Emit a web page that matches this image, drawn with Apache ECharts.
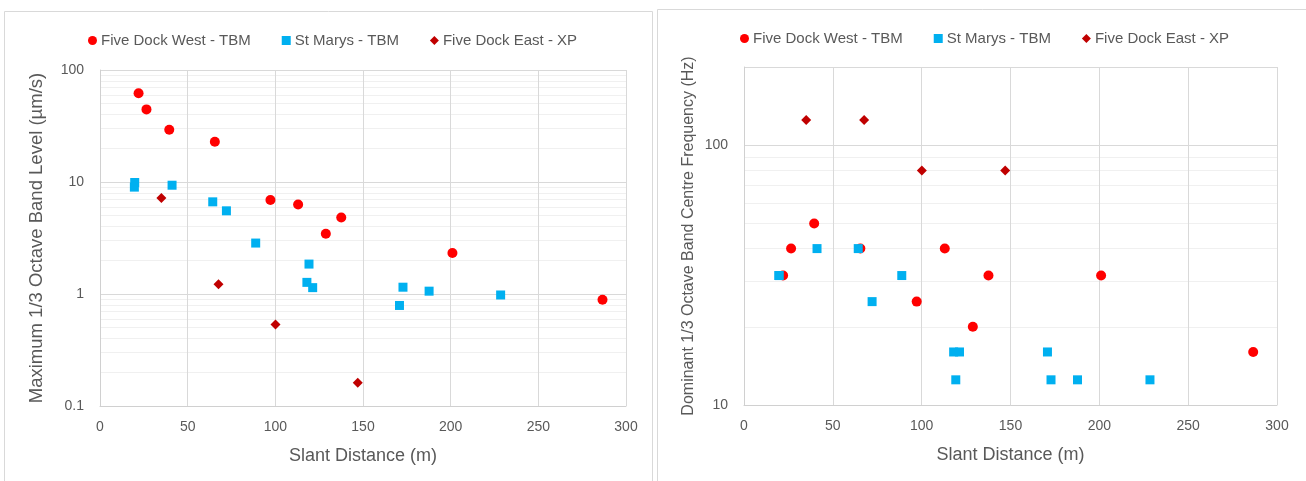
<!DOCTYPE html>
<html>
<head>
<meta charset="utf-8">
<script src="https://cdn.jsdelivr.net/npm/echarts@6/dist/echarts.min.js"></script>
<style>
  html, body { margin: 0; padding: 0; background: #fff; }
  #chart { width: 1306px; height: 481px; }
</style>
</head>
<body>
<div id="chart"></div>
<script>
// slant distance (m) per site
var westDist   = [22, 26.5, 39.5, 65.5, 97.2, 113, 128.8, 137.6, 201, 286.6];
var westLevel  = [62, 44.5, 29.3, 22.9, 6.9, 6.3, 3.45, 4.82, 2.32, 0.89];
var westFreq   = [31.5, 40, 50, 40, 25, 40, 20, 31.5, 31.5, 16];

var marysDist  = [19.8, 19.6, 41.1, 64.3, 72.1, 88.8, 119.2, 118, 121.3, 170.8, 172.8, 187.7, 228.5];
var marysLevel = [9.9, 9.0, 9.36, 6.65, 5.53, 2.85, 1.85, 1.27, 1.14, 0.79, 1.15, 1.06, 0.98];
var marysFreq  = [31.5, 31.5, 40, 40, 25, 31.5, 12.5, 16, 16, 16, 12.5, 12.5, 12.5];

var eastDist   = [35, 67.6, 100.1, 147];
var eastLevel  = [7.21, 1.22, 0.533, 0.161];
var eastFreq   = [125, 125, 80, 80];

var seriesNames = ['Five Dock West - TBM', 'St Marys - TBM', 'Five Dock East - XP'];
var xTicks = [0, 300, 50];           // min, max, interval
var levelRange = [0.1, 100];
var freqRange = [10, 200];

function pairs(xs, ys) {
  return xs.map(function (x, i) { return [x, ys[i]]; });
}

// minor log gridlines (2..9 of each decade) inside a range
function minorLines(lo, hi) {
  var out = [];
  for (var d = Math.floor(Math.log10(lo)); d <= Math.ceil(Math.log10(hi)); d++) {
    for (var m = 2; m <= 9; m++) {
      var v = m * Math.pow(10, d);
      if (v > lo * 1.0001 && v < hi * 0.9999) out.push({ yAxis: v });
    }
  }
  return out;
}

var FONT = "'Liberation Sans', Arial, sans-serif";
var GREY = '#595959';

function logLabel(v) {
  var l = Math.log10(v);
  if (Math.abs(l - Math.round(l)) > 1e-6) return '';
  return String(+Math.pow(10, Math.round(l)).toPrecision(6));
}

function xAxisOpt(gi) {
  return {
    type: 'value', gridIndex: gi, min: xTicks[0], max: xTicks[1], interval: xTicks[2],
    z: 2,
    name: 'Slant Distance (m)', nameLocation: 'middle', nameGap: 41,
    nameTextStyle: { color: GREY, fontSize: 18, fontFamily: FONT },
    axisLine: { show: true, lineStyle: { color: '#d0d0d0', width: 1 } },
    axisTick: { show: false },
    axisLabel: { color: GREY, fontSize: 14, fontFamily: FONT, margin: 14 },
    splitLine: { show: true, lineStyle: { color: '#d9d9d9', width: 1 } }
  };
}

function yAxisOpt(gi, range, title, gap, size) {
  return {
    type: 'log', logBase: 10, gridIndex: gi, min: range[0], max: range[1],
    z: 2,
    name: title, nameLocation: 'middle', nameGap: gap,
    nameTextStyle: { color: GREY, fontSize: size, fontFamily: FONT },
    axisLine: { show: true, lineStyle: { color: '#d0d0d0', width: 1 } },
    axisTick: { show: false },
    axisLabel: { color: GREY, fontSize: 14, fontFamily: FONT, margin: 16, formatter: logLabel },
    splitLine: { show: true, lineStyle: { color: '#d9d9d9', width: 1 } }
  };
}

function legendOpt(left, top) {
  return {
    data: seriesNames, left: left, top: top, itemGap: 31,
    itemWidth: 9, itemHeight: 9,
    textStyle: { color: GREY, fontSize: 15, fontFamily: FONT, padding: [0, 0, 0, -1] },
    selectedMode: false
  };
}

function gridHelper(gi, range) {
  return {
    type: 'scatter', xAxisIndex: gi, yAxisIndex: gi, data: [], z: 0, silent: true,
    markLine: {
      silent: true, symbol: 'none', label: { show: false }, z: 0,
      emphasis: { disabled: true },
      lineStyle: { color: '#f0f0f0', type: 'solid', width: 1 },
      data: minorLines(range[0], range[1])
    }
  };
}

function scatterSet(gi, westY, marysY, eastY) {
  return [
    { name: seriesNames[0], type: 'scatter', xAxisIndex: gi, yAxisIndex: gi, z: 3,
      symbol: 'circle', symbolSize: 10, itemStyle: { color: '#ff0000', opacity: 1 },
      data: pairs(westDist, westY) },
    { name: seriesNames[1], type: 'scatter', xAxisIndex: gi, yAxisIndex: gi, z: 4,
      symbol: 'rect', symbolSize: 9, itemStyle: { color: '#00b0f0', opacity: 1 },
      data: pairs(marysDist, marysY) },
    { name: seriesNames[2], type: 'scatter', xAxisIndex: gi, yAxisIndex: gi, z: 5,
      symbol: 'diamond', symbolSize: 10, itemStyle: { color: '#c00000', opacity: 1 },
      data: pairs(eastDist, eastY) }
  ];
}

var chart = echarts.init(document.getElementById('chart'), null, { renderer: 'canvas' });

chart.setOption({
  animation: false,
  backgroundColor: '#fff',
  graphic: [
    { type: 'rect', shape: { x: 4.5, y: 11.5, width: 648, height: 480 },
      style: { fill: 'none', stroke: '#d9d9d9', lineWidth: 1 }, silent: true },
    { type: 'rect', shape: { x: 657.5, y: 9.5, width: 660, height: 480 },
      style: { fill: 'none', stroke: '#d9d9d9', lineWidth: 1 }, silent: true }
  ],
  legend: [legendOpt(83, 28), legendOpt(735, 26)],
  grid: [
    { left: 100, top: 70, width: 526, height: 336 },
    { left: 744, top: 67, width: 533, height: 338 }
  ],
  xAxis: [xAxisOpt(0), xAxisOpt(1)],
  yAxis: [
    yAxisOpt(0, levelRange, 'Maximum 1/3 Octave Band Level (\u00b5m/s)', 54, 18.5),
    yAxisOpt(1, freqRange, 'Dominant 1/3 Octave Band Centre Frequency (Hz)', 47, 16)
  ],
  series: [gridHelper(0, levelRange), gridHelper(1, freqRange)]
    .concat(scatterSet(0, westLevel, marysLevel, eastLevel))
    .concat(scatterSet(1, westFreq, marysFreq, eastFreq))
});
</script>
</body>
</html>
